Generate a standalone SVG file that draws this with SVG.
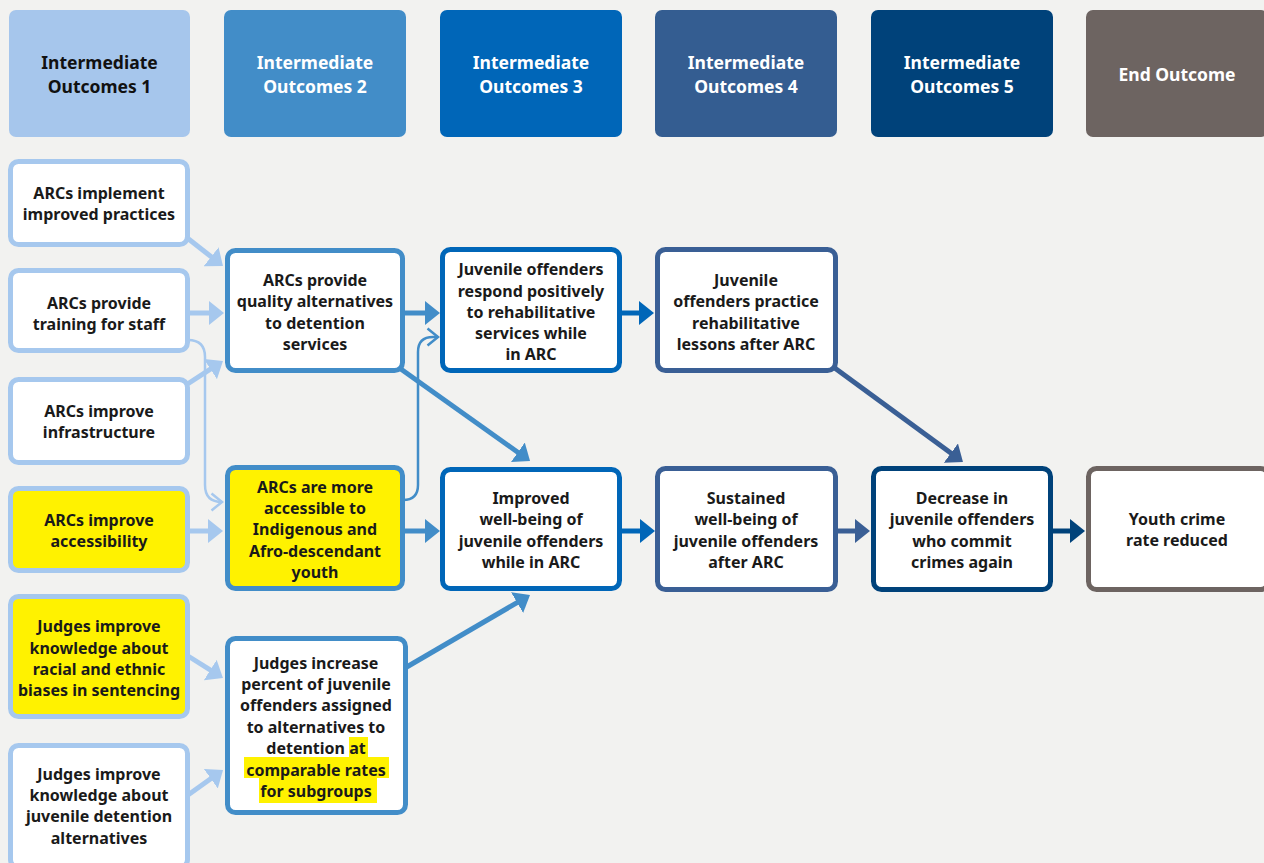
<svg xmlns="http://www.w3.org/2000/svg" width="1264" height="863" viewBox="0 0 1264 863">
<style>
text{font-family:"Noto Sans","Liberation Sans",sans-serif;font-weight:700;text-anchor:middle}
.hd{font-size:17.5px;fill:#ffffff}
.hd1{fill:#111111}
.t{font-size:16px;fill:#1a1a1a}
.box{stroke-width:5;fill:#ffffff}
.yel{fill:#fff200}
.c1{stroke:#a6c8ee}.c2{stroke:#428dc8}.c3{stroke:#0066b8}.c4{stroke:#3a5f95}.c5{stroke:#00427a}.c6{stroke:#6d6461}
.ln{fill:none;stroke-width:5}
.thin{fill:none;stroke-width:2.5}
.hl{fill:#fff200}
</style>
<defs>
<marker id="a1" viewBox="0 0 15 24" refX="5" refY="12" markerWidth="15" markerHeight="24" markerUnits="userSpaceOnUse" orient="auto"><path d="M0,0 L15,12 L0,24 Z" fill="#a6c8ee"/></marker>
<marker id="a2" viewBox="0 0 15 24" refX="5" refY="12" markerWidth="15" markerHeight="24" markerUnits="userSpaceOnUse" orient="auto"><path d="M0,0 L15,12 L0,24 Z" fill="#428dc8"/></marker>
<marker id="a3" viewBox="0 0 15 24" refX="5" refY="12" markerWidth="15" markerHeight="24" markerUnits="userSpaceOnUse" orient="auto"><path d="M0,0 L15,12 L0,24 Z" fill="#0066b8"/></marker>
<marker id="a4" viewBox="0 0 15 24" refX="5" refY="12" markerWidth="15" markerHeight="24" markerUnits="userSpaceOnUse" orient="auto"><path d="M0,0 L15,12 L0,24 Z" fill="#3a5f95"/></marker>
<marker id="a5" viewBox="0 0 15 24" refX="5" refY="12" markerWidth="15" markerHeight="24" markerUnits="userSpaceOnUse" orient="auto"><path d="M0,0 L15,12 L0,24 Z" fill="#00427a"/></marker>
<marker id="v1" viewBox="0 0 14 20" refX="12" refY="10" markerWidth="14" markerHeight="20" markerUnits="userSpaceOnUse" orient="auto"><path d="M1.5,1.5 L12,10 L1.5,18.5" fill="none" stroke="#a6c8ee" stroke-width="2.5"/></marker>
<marker id="v2" viewBox="0 0 14 20" refX="12" refY="10" markerWidth="14" markerHeight="20" markerUnits="userSpaceOnUse" orient="auto"><path d="M1.5,1.5 L12,10 L1.5,18.5" fill="none" stroke="#428dc8" stroke-width="2.5"/></marker>
</defs>
<rect x="0" y="0" width="1264" height="863" fill="#f2f2f0"/>

<g id="headers">
<g id="h1"><rect x="9" y="10" width="181" height="127" rx="7" fill="#a6c6ec"/><text class="hd hd1" x="99.5" y="69">Intermediate</text><text class="hd hd1" x="99.5" y="93">Outcomes 1</text></g>
<g id="h2"><rect x="224" y="10" width="182" height="127" rx="7" fill="#428dc8"/><text class="hd" x="315" y="69">Intermediate</text><text class="hd" x="315" y="93">Outcomes 2</text></g>
<g id="h3"><rect x="440" y="10" width="182" height="127" rx="7" fill="#0066b8"/><text class="hd" x="531" y="69">Intermediate</text><text class="hd" x="531" y="93">Outcomes 3</text></g>
<g id="h4"><rect x="655" y="10" width="182" height="127" rx="7" fill="#345d91"/><text class="hd" x="746" y="69">Intermediate</text><text class="hd" x="746" y="93">Outcomes 4</text></g>
<g id="h5"><rect x="871" y="10" width="182" height="127" rx="7" fill="#00427a"/><text class="hd" x="962" y="69">Intermediate</text><text class="hd" x="962" y="93">Outcomes 5</text></g>
<g id="h6"><rect x="1086" y="10" width="182" height="127" rx="7" fill="#6d6461"/><text class="hd" x="1177" y="81">End Outcome</text></g>
</g>

<g id="connectors">
<path class="ln c1" d="M186,237 L215.1,259.8" marker-end="url(#a1)"/>
<path class="ln c1" d="M188,313 L214,313" marker-end="url(#a1)"/>
<path class="ln c1" d="M186,385 L214.6,366.4" marker-end="url(#a1)"/>
<path class="thin c1" d="M188,340 Q205,340 205,357 L205,485 Q205,502 222,502" marker-end="url(#v1)"/>
<path class="ln c1" d="M188,531 L213,531" marker-end="url(#a1)"/>
<path class="ln c1" d="M188,656 L214.5,672.7" marker-end="url(#a1)"/>
<path class="ln c1" d="M188,795 L214.9,775.8" marker-end="url(#a1)"/>
<path class="ln c2" d="M403,313 L430,313" marker-end="url(#a2)"/>
<path class="thin c2" d="M403,500 Q418,500 418,485 L418,352 Q418,337 433,337 L438,337" marker-end="url(#v2)"/>
<path class="ln c2" d="M398,367 L521.9,455.2" marker-end="url(#a2)"/>
<path class="ln c2" d="M403,531 L430,531" marker-end="url(#a2)"/>
<path class="ln c2" d="M405,668 L521.4,600.1" marker-end="url(#a2)"/>
<path class="ln c3" d="M620,313 L644,313" marker-end="url(#a3)"/>
<path class="ln c3" d="M620,531 L645,531" marker-end="url(#a3)"/>
<path class="ln c4" d="M832,366 L954.9,456.1" marker-end="url(#a4)"/>
<path class="ln c4" d="M836,531 L860,531" marker-end="url(#a4)"/>
<path class="ln c5" d="M1051,531 L1075,531" marker-end="url(#a5)"/>
</g>

<g id="n1"><rect class="box c1" x="10.5" y="161.5" width="177" height="83" rx="8"/><text class="t" x="99" y="199">ARCs implement</text><text class="t" x="99" y="220">improved practices</text></g>
<g id="n2"><rect class="box c1" x="10.5" y="270.5" width="177" height="80" rx="8"/><text class="t" x="99" y="309">ARCs provide</text><text class="t" x="99" y="330">training for staff</text></g>
<g id="n3"><rect class="box c1" x="10.5" y="379.5" width="177" height="83" rx="8"/><text class="t" x="99" y="417">ARCs improve</text><text class="t" x="99" y="438">infrastructure</text></g>
<g id="n4"><rect class="box c1 yel" x="10.5" y="488.5" width="177" height="82" rx="8"/><text class="t" x="99" y="526">ARCs improve</text><text class="t" x="99" y="547">accessibility</text></g>
<g id="n5"><rect class="box c1 yel" x="10.5" y="596.5" width="177" height="120" rx="8"/><text class="t" x="99" y="632">Judges improve</text><text class="t" x="99" y="654">knowledge about</text><text class="t" x="99" y="675">racial and ethnic</text><text class="t" x="99" y="696">biases in sentencing</text></g>
<g id="n6"><rect class="box c1" x="10.5" y="745.5" width="177" height="122" rx="8"/><text class="t" x="99" y="780">Judges improve</text><text class="t" x="99" y="801">knowledge about</text><text class="t" x="99" y="822">juvenile detention</text><text class="t" x="99" y="844">alternatives</text></g>

<g id="m1"><rect class="box c2" x="227.5" y="250.5" width="175" height="120" rx="8"/><text class="t" x="315" y="286">ARCs provide</text><text class="t" x="315" y="307">quality alternatives</text><text class="t" x="315" y="329">to detention</text><text class="t" x="315" y="350">services</text></g>
<g id="m2"><rect class="box c2 yel" x="227.5" y="467.5" width="175" height="121" rx="8"/><text class="t" x="315" y="493">ARCs are more</text><text class="t" x="315" y="514">accessible to</text><text class="t" x="315" y="535">Indigenous and</text><text class="t" x="315" y="557">Afro-descendant</text><text class="t" x="315" y="578">youth</text></g>
<g id="m3"><rect class="box c2" x="227.5" y="638.5" width="178" height="174" rx="8"/>
<rect class="hl" x="349" y="737" width="19" height="21"/><rect class="hl" x="244" y="757" width="145" height="21"/><rect class="hl" x="259" y="777" width="118" height="26"/>
<text class="t" x="316" y="669">Judges increase</text><text class="t" x="316" y="690">percent of juvenile</text><text class="t" x="316" y="711">offenders assigned</text><text class="t" x="316" y="733">to alternatives to</text><text class="t" x="316" y="754">detention at</text><text class="t" x="316" y="776">comparable rates</text><text class="t" x="316" y="797">for subgroups</text></g>

<g id="j1"><rect class="box c3" x="442.5" y="249.5" width="177" height="121" rx="8"/><text class="t" x="531" y="275">Juvenile offenders</text><text class="t" x="531" y="297">respond positively</text><text class="t" x="531" y="318">to rehabilitative</text><text class="t" x="531" y="339">services while</text><text class="t" x="531" y="360">in ARC</text></g>
<g id="j2"><rect class="box c3" x="442.5" y="469.5" width="177" height="119" rx="8"/><text class="t" x="531" y="504">Improved</text><text class="t" x="531" y="525">well-being of</text><text class="t" x="531" y="547">juvenile offenders</text><text class="t" x="531" y="568">while in ARC</text></g>

<g id="k1"><rect class="box c4" x="657.5" y="249.5" width="178" height="121" rx="8"/><text class="t" x="746" y="286">Juvenile</text><text class="t" x="746" y="307">offenders practice</text><text class="t" x="746" y="329">rehabilitative</text><text class="t" x="746" y="350">lessons after ARC</text></g>
<g id="k2"><rect class="box c4" x="657.5" y="468.5" width="178" height="121" rx="8"/><text class="t" x="746" y="504">Sustained</text><text class="t" x="746" y="525">well-being of</text><text class="t" x="746" y="547">juvenile offenders</text><text class="t" x="746" y="568">after ARC</text></g>

<g id="l1"><rect class="box c5" x="873.5" y="468.5" width="177" height="121" rx="8"/><text class="t" x="962" y="504">Decrease in</text><text class="t" x="962" y="525">juvenile offenders</text><text class="t" x="962" y="547">who commit</text><text class="t" x="962" y="568">crimes again</text></g>

<g id="e1"><rect class="box c6" x="1088.5" y="468.5" width="180" height="121" rx="8"/><text class="t" x="1177" y="525">Youth crime</text><text class="t" x="1177" y="546">rate reduced</text></g>
</svg>
